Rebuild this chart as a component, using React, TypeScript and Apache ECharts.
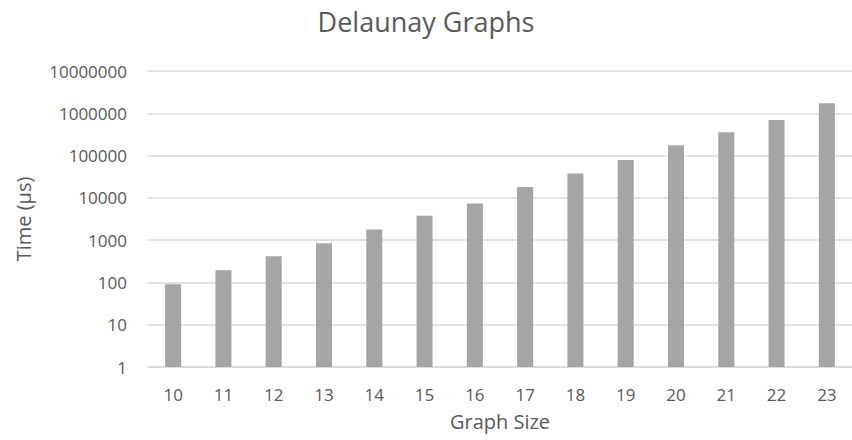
import React, { useEffect, useRef } from "react";
import * as echarts from "echarts";

const categories = ["10", "11", "12", "13", "14", "15", "16", "17", "18", "19", "20", "21", "22", "23"];
const times = [90, 194, 415, 843, 1780, 3800, 7330, 18100, 37500, 78900, 175000, 355000, 692000, 1730000];

const FONT = "'Open Sans', sans-serif";
const TEXT = "#595959";

export default function App() {
  const ref = useRef<HTMLDivElement>(null);
  useEffect(() => {
    const chart = echarts.init(ref.current!, null, { renderer: "svg" });
    chart.setOption({
      animation: false,
      title: {
        text: "Delaunay Graphs",
        left: "center",
        top: 8,
        padding: 0,
        textStyle: { fontFamily: FONT, fontSize: 27, fontWeight: "normal", color: TEXT, lineHeight: 27 },
      },
      grid: { left: 148, right: -5, top: 71, bottom: 73 },
      xAxis: {
        type: "category",
        data: categories,
        name: "Graph Size",
        nameLocation: "middle",
        nameGap: 44,
        nameTextStyle: { fontFamily: FONT, fontSize: 20, color: TEXT },
        axisLine: { lineStyle: { color: "#D9D9D9", width: 1.5 } },
        axisTick: { show: false },
        axisLabel: { margin: 19, fontFamily: FONT, fontSize: 17, color: TEXT },
      },
      yAxis: {
        type: "log",
        logBase: 10,
        min: 1,
        max: 10000000,
        name: "Time (µs)",
        nameLocation: "middle",
        nameGap: 115,
        nameRotate: 90,
        nameTextStyle: { fontFamily: FONT, fontSize: 20, color: TEXT },
        axisLine: { show: false },
        axisTick: { show: false },
        splitLine: { lineStyle: { color: "#D9D9D9", width: 1.5 } },
        axisLabel: {
          margin: 21,
          fontFamily: FONT,
          fontSize: 17,
          color: TEXT,
          formatter: (v: number) => String(Math.round(v)),
        },
      },
      series: [
        {
          type: "bar",
          data: times,
          barWidth: 16,
          itemStyle: { color: "#A5A5A5" },
        },
      ],
    });
    return () => chart.dispose();
  }, []);
  return (
    <div
      ref={ref}
      style={{ position: "absolute", left: 0, top: 0, width: 852, height: 440 }}
    />
  );
}
